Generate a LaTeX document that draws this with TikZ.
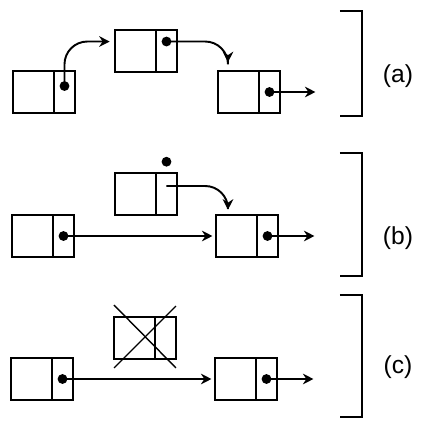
\documentclass[tikz,border=0pt]{standalone}
\usepackage{fontspec}
\setmainfont{Liberation Sans}
\usepackage{tikz}
\usetikzlibrary{positioning,arrows.meta}

\tikzset{
  datacell/.style={draw, line width=1.6pt, minimum width=0.82cm, minimum height=0.84cm, inner sep=0pt, outer sep=0pt},
  ptrcell/.style={datacell, minimum width=0.42cm},
  link/.style={line width=1.1pt, -{Stealth[length=6pt,width=6pt]}},
  dot/.style={circle, fill, inner sep=0pt, minimum size=5.6pt},
  bracketline/.style={line width=1.4pt},
  tag/.style={font=\fontsize{14}{16}\selectfont}
}

% one list element: data cell + pointer cell
\newcommand{\elem}[3]{
  \node[datacell, anchor=north west] (#1-l) at (#2,#3) {};
  \node[ptrcell, right=0pt of #1-l] (#1-p) {};
}

\begin{document}
\begin{tikzpicture}[x=0.02cm, y=-0.02cm]
  \useasboundingbox (0,0) rectangle (424,424);

  % (a)
  \elem{a1}{13}{71}
  \elem{a2}{115}{30}
  \elem{a3}{218}{71}
  \node[dot, yshift=3.4pt] (a1-d) at (a1-p) {};
  \node[dot, yshift=5.4pt] (a2-d) at (a2-p) {};
  \node[dot] (a3-d) at (a3-p) {};
  \coordinate (a3-out) at ([xshift=0.92cm]a3-d.center);
  \draw[link, rounded corners=13pt, shorten >=3pt] (a1-d.center) |- (a2-l.west |- a2-d.center);
  \draw[link, rounded corners=13pt, shorten >=5pt] (a2-d.center) -| ([xshift=0.2cm]a3-l.north west);
  \draw[link] (a3-d.center) -- (a3-out);

  % (b)
  \elem{b1}{12}{215}
  \elem{b2}{115}{173}
  \elem{b3}{216}{215}
  \node[dot] (b1-d) at (b1-p) {};
  \node[dot, above=0.12cm of b2-p] (b2-d) {};
  \node[dot] (b3-d) at (b3-p) {};
  \coordinate (b2-s) at ([yshift=0.16cm]b2-p.center);
  \coordinate (b3-out) at ([xshift=0.94cm]b3-d.center);
  \draw[link, shorten >=2pt] (b1-d.center) -- (b3-l.west |- b1-d.center);
  \draw[link, rounded corners=13pt, shorten >=3pt] (b2-s) -| ([xshift=0.24cm]b3-l.north west);
  \draw[link] (b3-d.center) -- (b3-out);

  % (c)
  \elem{c1}{11}{358}
  \elem{c2}{114}{317}
  \elem{c3}{215}{358}
  \node[dot] (c1-d) at (c1-p) {};
  \node[dot] (c3-d) at (c3-p) {};
  \coordinate (c3-out) at ([xshift=0.94cm]c3-d.center);
  \draw[line width=0.8pt] ([yshift=0.24cm]c2-l.north west) -- ([yshift=-0.18cm]c2-p.south east);
  \draw[line width=0.8pt] ([yshift=0.22cm]c2-p.north east) -- ([yshift=-0.18cm]c2-l.south west);
  \draw[link, shorten >=2pt] (c1-d.center) -- (c3-l.west |- c1-d.center);
  \draw[link] (c3-d.center) -- (c3-out);

  % brackets
  \draw[bracketline] (340,11) -- (362,11) -- (362,116) -- (340,116);
  \draw[bracketline] (340,153) -- (362,153) -- (362,276) -- (340,276);
  \draw[bracketline] (340,295) -- (362,295) -- (362,417) -- (340,417);
  \node[tag] (la) at (398,76) {(a)};
  \node[tag] (lb) at (398,238) {(b)};
  \node[tag] (lc) at (398,367) {(c)};
\end{tikzpicture}
\end{document}
